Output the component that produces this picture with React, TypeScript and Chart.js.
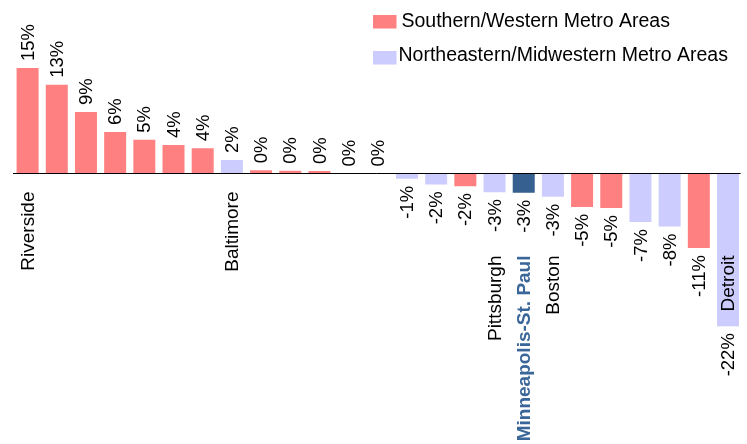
import { useEffect, useRef } from 'react';
import { Chart, registerables } from 'chart.js';

Chart.register(...registerables);

const categories = [
  'Riverside', '', '', '', '', '', '', 'Baltimore', '', '', '', '', '',
  '', '', '', 'Pittsburgh', 'Minneapolis-St. Paul', 'Boston', '', '', '', '', '', 'Detroit',
];
const changes = [
  15.0, 12.6, 8.75, 5.9, 4.8, 4.05, 3.6, 1.9, 0.45, 0.4, 0.35, 0, 0,
  -0.75, -1.55, -1.8, -2.65, -2.75, -3.3, -4.75, -4.9, -6.9, -7.55, -10.6, -21.7,
];
// S = Southern/Western, N = Northeastern/Midwestern, H = highlighted
const regions = [
  'S', 'S', 'S', 'S', 'S', 'S', 'S', 'N', 'S', 'S', 'S', 'S', 'N',
  'N', 'N', 'S', 'N', 'H', 'N', 'S', 'S', 'N', 'N', 'S', 'N',
];
const legendLabels = ['Southern/Western Metro Areas', 'Northeastern/Midwestern Metro Areas'];

const COLORS: Record<string, string> = { S: '#FF8080', N: '#CCCCFF', H: '#36608F' };
const HIGHLIGHT_TEXT = '#3A6699';
const FONT = '"Liberation Sans", Arial, sans-serif';

const labelsPlugin = {
  id: 'customLabels',
  afterDatasetsDraw(chart: any) {
    const ctx: CanvasRenderingContext2D = chart.ctx;
    const meta = chart.getDatasetMeta(0);
    const yScale = chart.scales.y;
    const zero = yScale.getPixelForValue(0);
    const area = chart.chartArea;

    ctx.save();
    ctx.strokeStyle = '#000';
    ctx.lineWidth = 1;
    ctx.beginPath();
    ctx.moveTo(area.left, Math.round(zero) + 0.5);
    ctx.lineTo(area.right - 2, Math.round(zero) + 0.5);
    ctx.stroke();
    ctx.restore();

    meta.data.forEach((bar: any, i: number) => {
      const v = changes[i];
      const x = bar.x;
      const end = bar.y;
      const valueText = `${Math.round(v) === 0 ? 0 : Math.round(v)}%`;
      // value label
      ctx.save();
      ctx.fillStyle = '#000';
      ctx.font = `18.5px ${FONT}`;
      ctx.textBaseline = 'middle';
      if (v >= 0) {
        ctx.translate(x + 1, Math.min(end, zero) - 7);
        ctx.rotate(-Math.PI / 2);
        ctx.textAlign = 'left';
      } else {
        ctx.translate(x + 1, end + 7);
        ctx.rotate(-Math.PI / 2);
        ctx.textAlign = 'right';
      }
      ctx.fillText(valueText, 0, 0);
      ctx.restore();

      // category label
      const name = categories[i];
      if (name) {
        ctx.save();
        const hl = regions[i] === 'H';
        ctx.fillStyle = hl ? HIGHLIGHT_TEXT : '#000';
        ctx.font = `${hl ? 'bold ' : ''}19px ${FONT}`;
        ctx.textBaseline = 'middle';
        ctx.textAlign = 'right';
        const top = v >= 0 ? zero + 18 : zero + 82;
        ctx.translate(x + 1, top);
        ctx.rotate(-Math.PI / 2);
        ctx.fillText(name, 0, 0);
        ctx.restore();
      }
    });

    // legend
    const rows = [
      { key: 'S', boxY: 15, textX: 401.5, textY: 21.5 },
      { key: 'N', boxY: 51, textX: 398.5, textY: 56 },
    ];
    rows.forEach((r, i) => {
      ctx.save();
      ctx.fillStyle = COLORS[r.key];
      ctx.fillRect(373, r.boxY, 23.5, 13.5);
      ctx.fillStyle = '#000';
      ctx.font = `19.5px ${FONT}`;
      ctx.textBaseline = 'middle';
      ctx.textAlign = 'left';
      ctx.fillText(legendLabels[i], r.textX, r.textY);
      ctx.restore();
    });
  },
};

export default function App() {
  const canvasRef = useRef<HTMLCanvasElement | null>(null);

  useEffect(() => {
    document.body.style.margin = '0';
    document.body.style.overflow = 'hidden';
    const canvas = canvasRef.current;
    if (!canvas) return;
    const chart = new Chart(canvas, {
      type: 'bar',
      data: {
        labels: categories.map((c, i) => c || `#${i + 1}`),
        datasets: [
          {
            data: changes,
            backgroundColor: regions.map((r) => COLORS[r]),
            borderWidth: 0,
            barPercentage: 0.754,
            categoryPercentage: 1,
          },
        ],
      },
      options: {
        animation: false,
        responsive: true,
        maintainAspectRatio: false,
        events: [],
        layout: { padding: { left: 13, right: 4.4, top: 0, bottom: 0 } },
        plugins: { legend: { display: false }, tooltip: { enabled: false } },
        scales: {
          x: { display: false },
          y: { display: false, min: -38.45, max: 24.66 },
        },
      },
      plugins: [labelsPlugin],
    });
    return () => chart.destroy();
  }, []);

  return (
    <div style={{ width: 747, height: 444, position: 'relative' }}>
      <canvas ref={canvasRef} />
    </div>
  );
}
